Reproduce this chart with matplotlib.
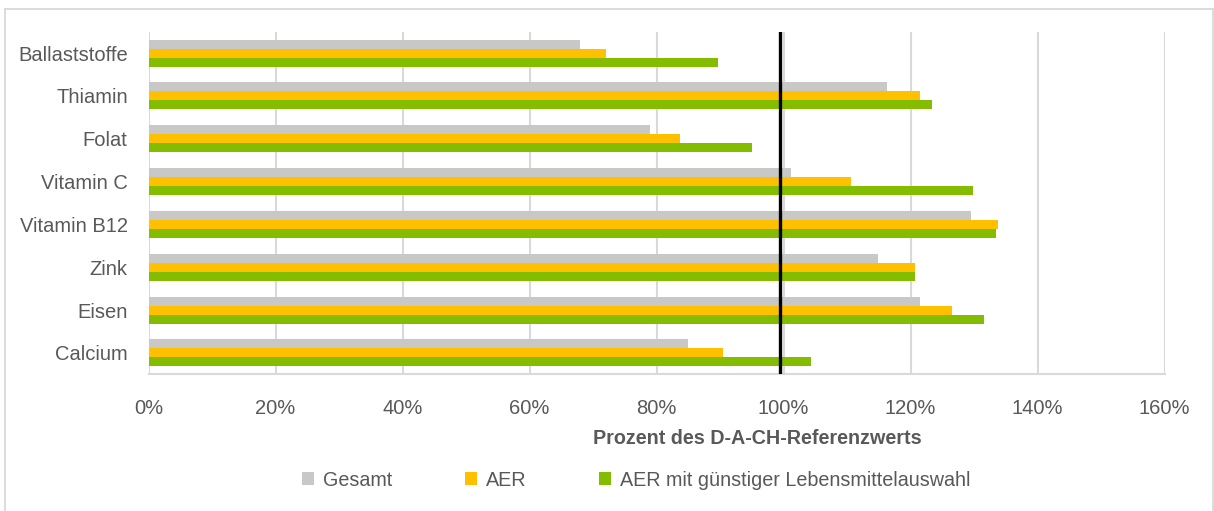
import matplotlib
matplotlib.use("Agg")
import matplotlib.pyplot as plt
from matplotlib.lines import Line2D
import numpy as np

plt.rcParams['font.family'] = ['Liberation Sans Narrow', 'Liberation Sans', 'DejaVu Sans']

# Nutrients, top to bottom
categories = ["Ballaststoffe", "Thiamin", "Folat", "Vitamin C", "Vitamin B12", "Zink", "Eisen", "Calcium"]
series_names = ["Gesamt", "AER", "AER mit günstiger Lebensmittelauswahl"]
gesamt = [68.0, 116.3, 79.0, 101.2, 129.5, 114.9, 121.5, 85.0]
aer = [72.0, 121.5, 83.7, 110.7, 133.8, 120.7, 126.6, 90.4]
aer_guenstig = [89.7, 123.4, 95.1, 129.8, 133.4, 120.7, 131.6, 104.4]
reference_line = 99.5
xticks = [0, 20, 40, 60, 80, 100, 120, 140, 160]
xtick_labels = ["0%", "20%", "40%", "60%", "80%", "100%", "120%", "140%", "160%"]
xlabel = "Prozent des D-A-CH-Referenzwerts"

colors = ["#c8c9c7", "#ffc000", "#84bd00"]
text_color = "#595959"
grid_color = "#d9d9d9"

W, H = 1214, 511
fig = plt.figure(figsize=(W / 100, H / 100), dpi=100)
ax = fig.add_axes([148.5 / W, 1 - 374.4 / H, 1016 / W, (374.4 - 31.6) / H])

y = np.arange(len(categories))
h = 0.21
series = [gesamt, aer, aer_guenstig]
bars = []
for i, (vals, c, name) in enumerate(zip(series, colors, series_names)):
    b = ax.barh(y + (i - 1) * h, vals, height=h, color=c, label=name, zorder=2)
    bars.append(b)

ax.axvline(reference_line, color="black", lw=2.4, zorder=3)

ax.set_xlim(0, 160)
ax.set_ylim(len(categories) - 0.5, -0.5)
ax.set_xticks(xticks)
ax.set_xticklabels(xtick_labels, fontsize=14.5, color=text_color)
ax.set_yticks(y)
ax.set_yticklabels(categories, fontsize=14.5, color=text_color)
ax.tick_params(axis="both", length=0)
ax.tick_params(axis="x", pad=18)
ax.tick_params(axis="y", pad=15)
ax.grid(axis="x", color=grid_color, lw=1.5, zorder=0)
for s in ["top", "right", "left"]:
    ax.spines[s].set_visible(False)
ax.spines["bottom"].set_color(grid_color)
ax.spines["bottom"].set_linewidth(1.5)

fig.text(757 / W, 1 - 438 / H, xlabel, ha="center", va="center",
         fontsize=14.2, fontweight="bold", color=text_color)

leg = fig.legend(handles=bars, labels=series_names, loc="center",
                 bbox_to_anchor=(636 / W, 1 - 480 / H), ncol=3, frameon=False,
                 fontsize=14.2, handlelength=0.6, handleheight=0.6, handletextpad=0.45,
                 columnspacing=3.7)
for t in leg.get_texts():
    t.set_color(text_color)

# Outer chart frame: top, left and right edges
frame = dict(color=grid_color, lw=1.3, transform=fig.transFigure)
top_y = 1 - 9 / H
left_x = 4.5 / W
right_x = 1 - 1.5 / W
fig.lines.append(Line2D([left_x, right_x], [top_y, top_y], **frame))
fig.lines.append(Line2D([left_x, left_x], [0, top_y], **frame))
fig.lines.append(Line2D([right_x, right_x], [0, top_y], **frame))

fig.savefig("out.png", dpi=100)
